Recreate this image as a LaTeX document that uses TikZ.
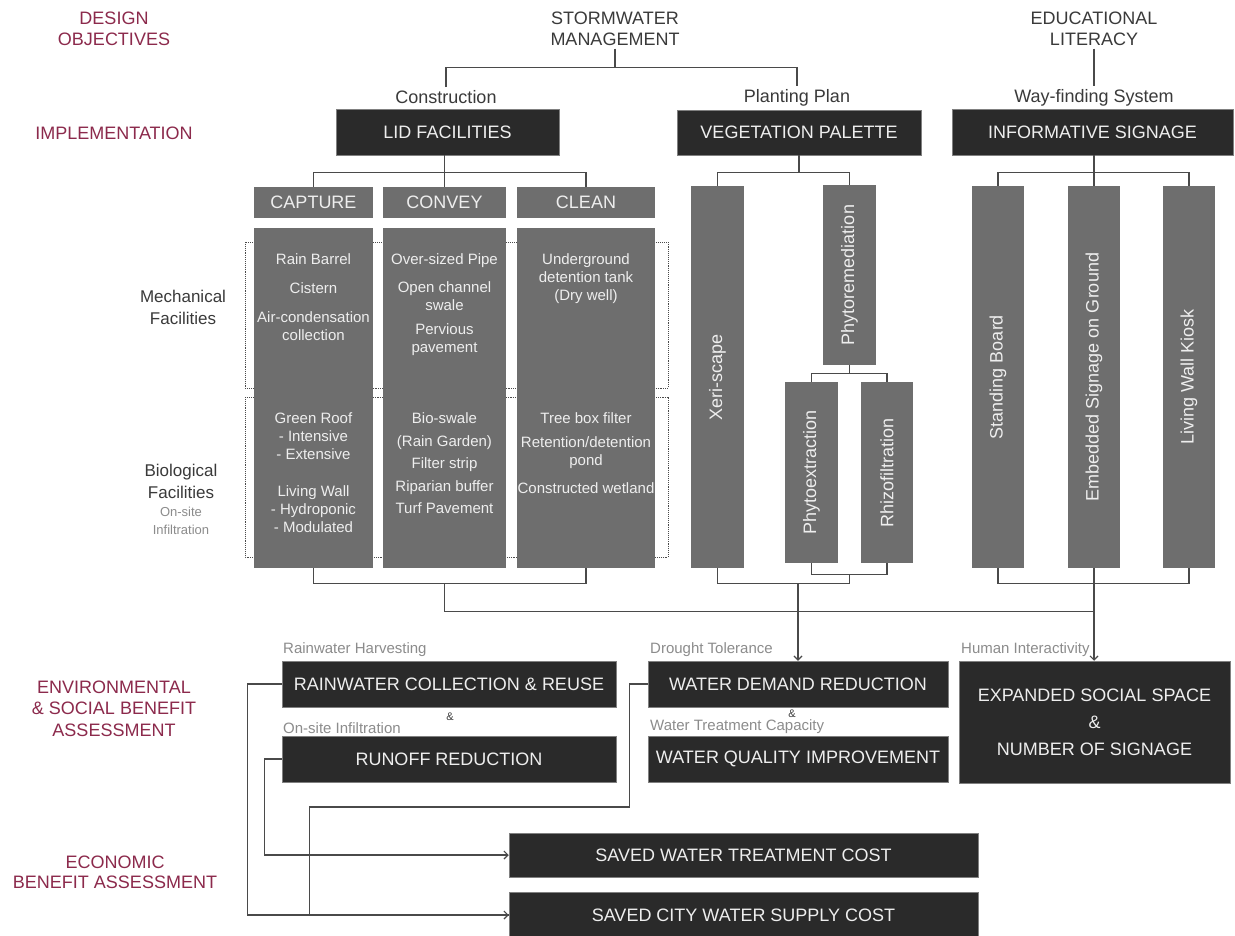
\documentclass[tikz,border=0pt]{standalone}
\usepackage{fontspec}
\setmainfont{Liberation Sans}
\usetikzlibrary{arrows.meta}

\definecolor{boxdark}{HTML}{2A2A2A}
\definecolor{boxgray}{HTML}{6E6E6E}
\definecolor{wire}{HTML}{4A4A4A}
\definecolor{stagered}{RGB}{140,42,76}
\definecolor{headgray}{HTML}{3A3A3A}
\definecolor{notegray}{HTML}{8C8C8C}
\definecolor{boxtext}{HTML}{EEEEEE}

\begin{document}
\begin{tikzpicture}[x=1pt,y=-1pt,
	big/.style={font=\fontsize{18}{21}\selectfont},
	stagelbl/.style={big,stagered,align=center},
	headlbl/.style={big,headgray,align=center,inner sep=3pt},
	darkbox/.style={big,fill=boxdark,draw=black!50,line width=0.5pt,text=boxtext,inner sep=0pt,align=center},
	graybox/.style={big,fill=boxgray,text=boxtext,inner sep=0pt},
	colbox/.style={fill=boxgray,inner sep=0pt},
	coltext/.style={font=\fontsize{15}{18}\selectfont,text=boxtext,align=center,inner sep=0pt,anchor=north},
	vbox/.style={big,fill=boxgray,text=boxtext,inner sep=0pt,rotate=90},
	notelbl/.style={font=\fontsize{15}{18}\selectfont,notegray,anchor=west,inner sep=0pt},
	amplbl/.style={font=\fontsize{11}{13}\selectfont,headgray,inner sep=0pt},
	link/.style={wire,line width=1.1pt},
	flow/.style={link,-{Straight Barb[length=4pt,width=8pt]}}]

	\fill[white] (0,0) rectangle (1235,935);
	\useasboundingbox (0,0) rectangle (1235,935);

	% Stages
	\node[stagelbl] (design) at (114,28.5) {DESIGN\\OBJECTIVES};
	\node[stagelbl] (impl) at (114,133) {IMPLEMENTATION};
	\node[stagelbl, font=\fontsize{18}{21.5}\selectfont] (envir) at (114,708.5) {ENVIRONMENTAL\\\& SOCIAL BENEFIT\\ASSESSMENT};
	\node[stagelbl, font=\fontsize{18}{20}\selectfont] (econ) at (115,872) {ECONOMIC\\BENEFIT ASSESSMENT};

	% Objectives
	\node[headlbl] (storm) at (615,28.5) {STORMWATER\\MANAGEMENT};
	\node[headlbl] (literacy) at (1094,28.5) {EDUCATIONAL\\LITERACY};
	\node[headlbl] (construct) at (446,97) {Construction};
	\node[headlbl] (planting) at (797,98) {Planting Plan};
	\node[headlbl] (wayfind) at (1094,98) {Way-finding System};

	\node[darkbox, minimum width=223pt, minimum height=46pt] (lid) at (447.5,132) {LID FACILITIES};
	\node[darkbox, minimum width=244pt, minimum height=45pt] (veg) at (799,132.5) {VEGETATION PALETTE};
	\node[darkbox, minimum width=281pt, minimum height=46pt] (info) at (1092.5,132) {INFORMATIVE SIGNAGE};

	% LID columns
	\node[graybox, minimum width=119pt, minimum height=31pt] (capture) at (313.5,202.5) {CAPTURE};
	\node[graybox, minimum width=123pt, minimum height=31pt] (convey) at (444.5,202.5) {CONVEY};
	\node[graybox, minimum width=138pt, minimum height=31pt] (clean) at (586,202.5) {CLEAN};

	\draw[wire, densely dotted, line width=0.9pt] (245,242) rectangle (668,388);
	\draw[wire, densely dotted, line width=0.9pt] (245,397) rectangle (668,557);

	\node[colbox, minimum width=119pt, minimum height=340pt] (capcol) at (313.5,398) {};
	\node[colbox, minimum width=123pt, minimum height=340pt] (concol) at (444.5,398) {};
	\node[colbox, minimum width=138pt, minimum height=340pt] (clecol) at (586,398) {};

	\node[coltext] (capmech) at (313.5,253.5) {Rain Barrel\\[11pt]Cistern\\[11pt]Air-condensation\\collection};
	\node[coltext] (capbio) at (313.5,412.5) {Green Roof\\- Intensive\\- Extensive\\[19pt]Living Wall\\- Hydroponic\\- Modulated};
	\node[coltext] (conmech) at (444.5,253.5) {Over-sized Pipe\\[10pt]Open channel\\swale\\[6pt]Pervious\\pavement};
	\node[coltext] (conbio) at (444.5,412.5) {Bio-swale\\[4.5pt](Rain Garden)\\[4.5pt]Filter strip\\[4.5pt]Riparian buffer\\[4.5pt]Turf Pavement};
	\node[coltext] (clemech) at (586,253.5) {Underground\\detention tank\\(Dry well)};
	\node[coltext] (clebio) at (586,412.5) {Tree box filter\\[6pt]Retention/detention\\pond\\[10pt]Constructed wetland};

	\node[headlbl, font=\fontsize{17}{22}\selectfont] (mech) at (183,307) {Mechanical\\Facilities};
	\node[headlbl, font=\fontsize{17}{22}\selectfont] (bio) at (181,481) {Biological\\Facilities};
	\node[headlbl, font=\fontsize{13}{18}\selectfont, text=notegray] (onsite) at (181,521) {On-site\\Infiltration};

	% Plant and sign columns
	\node[vbox, minimum width=382pt, minimum height=53pt] (xeri) at (717.5,377) {Xeri-scape};
	\node[vbox, minimum width=180pt, minimum height=53pt] (phytorem) at (849.5,275) {Phytoremediation};
	\node[vbox, minimum width=181pt, minimum height=53pt] (phytoext) at (811.5,472.5) {Phytoextraction};
	\node[vbox, minimum width=181pt, minimum height=52pt] (rhizo) at (887,472.5) {Rhizofiltration};

	\node[vbox, minimum width=382pt, minimum height=52pt] (standing) at (998,377) {Standing Board};
	\node[vbox, minimum width=382pt, minimum height=52pt] (embedded) at (1094,377) {Embedded Signage on Ground};
	\node[vbox, minimum width=382pt, minimum height=52pt] (kiosk) at (1189,377) {Living Wall Kiosk};

	% Benefits
	\node[notelbl] (harvest) at (283,650) {Rainwater Harvesting};
	\node[darkbox, minimum width=334pt, minimum height=46pt] (rainwater) at (449,684) {RAINWATER COLLECTION \& REUSE};
	\node[amplbl] (amp1) at (450,717) {\&};
	\node[notelbl] (infiltr) at (283,728) {On-site Infiltration};
	\node[darkbox, minimum width=334pt, minimum height=46pt] (runoff) at (449,759) {RUNOFF REDUCTION};

	\node[notelbl] (drought) at (650,650) {Drought Tolerance};
	\node[darkbox, minimum width=300pt, minimum height=46pt] (demand) at (798,684) {WATER DEMAND REDUCTION};
	\node[amplbl] (amp2) at (792,714) {\&};
	\node[notelbl] (treatcap) at (650,727) {Water Treatment Capacity};
	\node[darkbox, minimum width=300pt, minimum height=46pt] (quality) at (798,759) {WATER QUALITY IMPROVEMENT};

	\node[notelbl] (human) at (961,650) {Human Interactivity};
	\node[darkbox, minimum width=271pt, minimum height=122pt, font=\fontsize{18}{27}\selectfont] (expanded) at (1094.5,722) {EXPANDED SOCIAL SPACE\\\&\\NUMBER OF SIGNAGE};

	\node[darkbox, minimum width=469pt, minimum height=44pt] (treatcost) at (743.5,855) {SAVED WATER TREATMENT COST};
	\node[darkbox, minimum width=469pt, minimum height=46pt] (supplycost) at (743.5,915) {SAVED CITY WATER SUPPLY COST};

	% Links
	\draw[link] (storm.south) -- ++(0,19);
	\draw[link] (construct.north) -- ++(0,-20) -| (planting.north);
	\draw[link] (literacy.south) -- (wayfind.north);

	\draw[link] (capture.north) -- ++(0,-14) -| (clean.north);
	\draw[link] (lid.south -| convey.north) -- (convey.north);

	\draw[link] (veg.south) -- ++(0,18);
	\draw[link] (xeri.east) -- ++(0,-13) -| (phytorem.east);
	\draw[link] (phytorem.west) -- ++(0,9);
	\draw[link] (phytoext.east) -- ++(0,-8) -| (rhizo.east);

	\draw[link] (standing.east) -- ++(0,-13) -| (kiosk.east);
	\draw[link] (info.south -| embedded.east) -- (embedded.east);

	\draw[link] (capcol.south) -- ++(0,15) -| (clecol.south);
	\draw[link] (concol.south) ++(0,15) -- ++(0,28) -| (embedded.west);

	\draw[link] (phytoext.west) -- ++(0,11) -| (rhizo.west);
	\draw[link] (xeri.west) -- ++(0,15) -- ++(132,0) -- ++(0,-9);
	\draw[flow] (xeri.west) ++(80.5,15) -- (demand.north);

	\draw[link] (standing.west) -- ++(0,15) -| (kiosk.west);
	\draw[flow] (embedded.west) -- (embedded.west |- expanded.north);

	\draw[flow] (rainwater.west) -- ++(-34,0) |- (supplycost.west);
	\draw[flow] (runoff.west) -- ++(-17,0) |- (treatcost.west);
	\draw[link] (demand.west) -- ++(-18,0) -- ++(0,123) -- ++(-320,0) |- (supplycost.west);
\end{tikzpicture}
\end{document}
